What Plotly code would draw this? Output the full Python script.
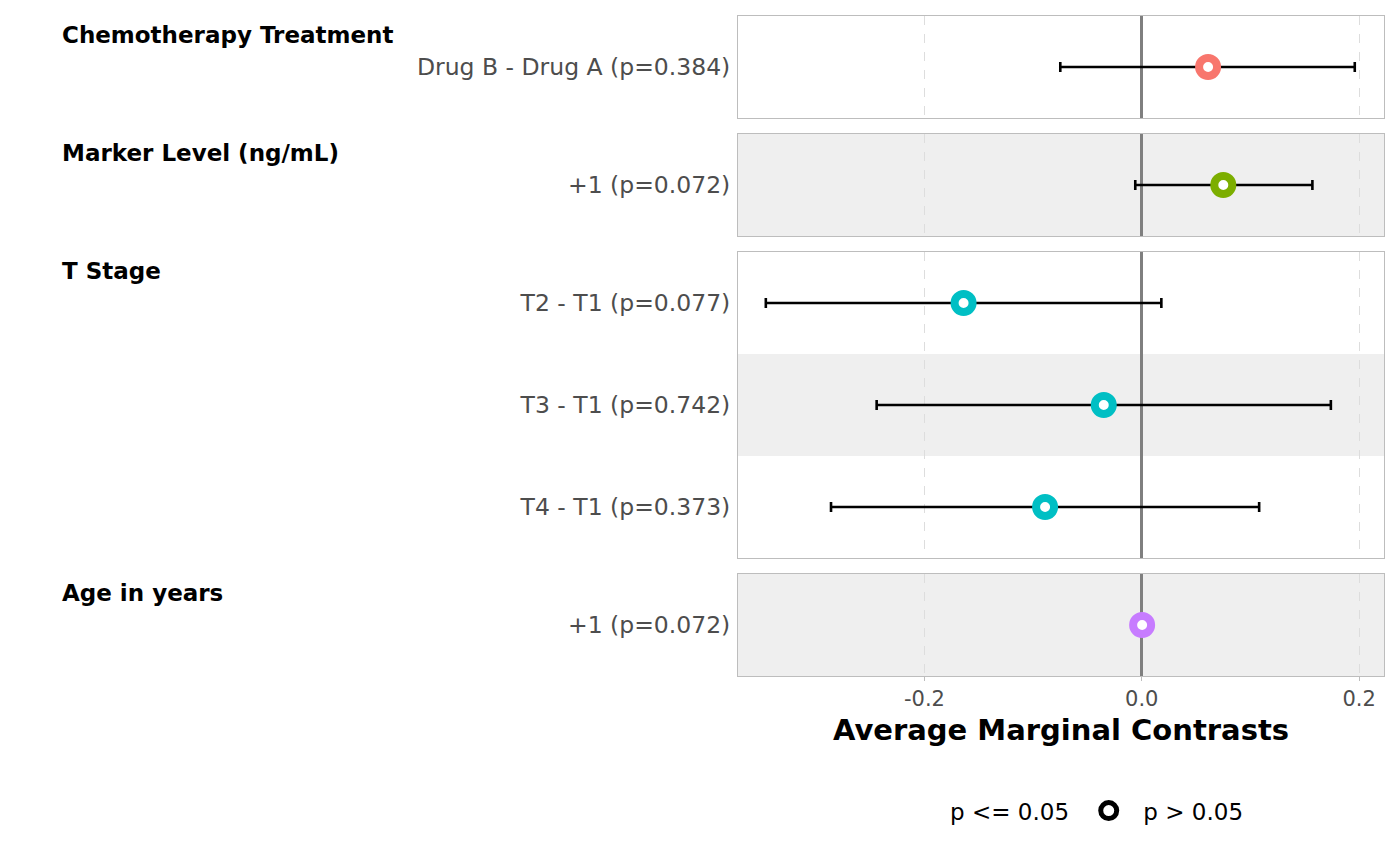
import plotly.graph_objects as go
from plotly.subplots import make_subplots

# Data
groups = ["Chemotherapy Treatment", "Marker Level (ng/mL)", "T Stage", "Age in years"]
group_labels = [
    ["Drug B - Drug A (p=0.384)"],
    ["+1 (p=0.072)"],
    ["T2 - T1 (p=0.077)", "T3 - T1 (p=0.742)", "T4 - T1 (p=0.373)"],
    ["+1 (p=0.072)"],
]
group_est = [[0.061], [0.075], [-0.164, -0.035, -0.089], [0.0003]]
group_low = [[-0.075], [-0.006], [-0.346, -0.244, -0.286], [0.0000]]
group_high = [[0.196], [0.157], [0.018, 0.174, 0.108], [0.0006]]
group_colors = ["#F8766D", "#7CAE00", "#00BFC4", "#C77CFF"]
xticks = [-0.2, 0.0, 0.2]
xtick_text = ["-0.2", "0.0", "0.2"]

font_family = "DejaVu Sans"
nrows = [len(l) for l in group_labels]

fig = make_subplots(rows=4, cols=1, shared_xaxes=True, row_heights=nrows,
                    vertical_spacing=16 / 661)

band = 1  # alternating shaded rows across all panels
for i, grp in enumerate(groups):
    n = nrows[i]
    ypos = list(range(n, 0, -1))
    est = group_est[i]
    lo = group_low[i]
    hi = group_high[i]
    fig.add_trace(go.Scatter(
        x=est, y=ypos, mode="markers", showlegend=False,
        marker=dict(symbol="circle", size=18, color="white",
                    line=dict(color=group_colors[i], width=8)),
        error_x=dict(type="data", symmetric=False,
                     array=[h - e for h, e in zip(hi, est)],
                     arrayminus=[e - l for e, l in zip(est, lo)],
                     color="black", thickness=2.6, width=5),
    ), row=i + 1, col=1)
    # row shading
    for y in ypos:
        if band % 2 == 0:
            fig.add_shape(type="rect", xref="x%d domain" % (i + 1) if i else "x domain",
                          yref="y%d" % (i + 1) if i else "y",
                          x0=0, x1=1, y0=y - 0.5, y1=y + 0.5,
                          fillcolor="#EFEFEF", line_width=0, layer="below")
        band += 1
    fig.update_yaxes(range=[0.5, n + 0.5], tickvals=ypos, ticktext=group_labels[i],
                     showgrid=False, zeroline=False, showline=True, mirror=True,
                     linecolor="#BDBDBD", linewidth=1, ticks="", ticklabelstandoff=2,
                     tickfont=dict(family=font_family, size=23.5, color="#4D4D4D"),
                     row=i + 1, col=1)
    fig.update_xaxes(range=[-0.3716, 0.2229], tickvals=xticks, ticktext=xtick_text,
                     showgrid=True, gridcolor="#DDDDDD", griddash="dash", gridwidth=1,
                     zeroline=True, zerolinecolor="#7F7F7F", zerolinewidth=2.6,
                     showline=True, mirror=True, linecolor="#BDBDBD", linewidth=1,
                     row=i + 1, col=1)
    fig.add_annotation(text="<b>%s</b>" % grp, xref="paper",
                       yref="y%d domain" % (i + 1) if i else "y domain",
                       x=-1.0417, y=1, xanchor="left", yanchor="middle",
                       yshift=-19, xshift=-5, showarrow=False,
                       font=dict(family=font_family, size=23, color="black"))

fig.update_xaxes(ticks="outside", ticklen=4, tickcolor="#BDBDBD",
                 tickfont=dict(family=font_family, size=21, color="#4D4D4D"),
                 title=dict(text="<b>Average Marginal Contrasts</b>", standoff=9,
                            font=dict(family=font_family, size=29, color="black")),
                 row=4, col=1)

# legend entries
fig.add_trace(go.Scatter(x=[None], y=[None], mode="markers",
                         name="&nbsp;&nbsp;p <= 0.05&nbsp;&nbsp;",
                         marker=dict(size=18, color="rgba(0,0,0,0)")), row=4, col=1)
fig.add_trace(go.Scatter(x=[None], y=[None], mode="markers",
                         name="&nbsp;&nbsp;p > 0.05",
                         marker=dict(size=18, color="white",
                                     line=dict(color="black", width=8))), row=4, col=1)

fig.update_layout(
    width=1400, height=865,
    margin=dict(l=730, r=24, t=8, b=197),
    plot_bgcolor="white", paper_bgcolor="white",
    font=dict(family=font_family, color="black"),
    showlegend=True,
    legend=dict(orientation="h", x=0.517, y=-0.204, xanchor="center", yanchor="middle",
                font=dict(family=font_family, size=23, color="black"),
                itemwidth=30, bgcolor="rgba(0,0,0,0)"),
)

fig.write_html("out.html")
